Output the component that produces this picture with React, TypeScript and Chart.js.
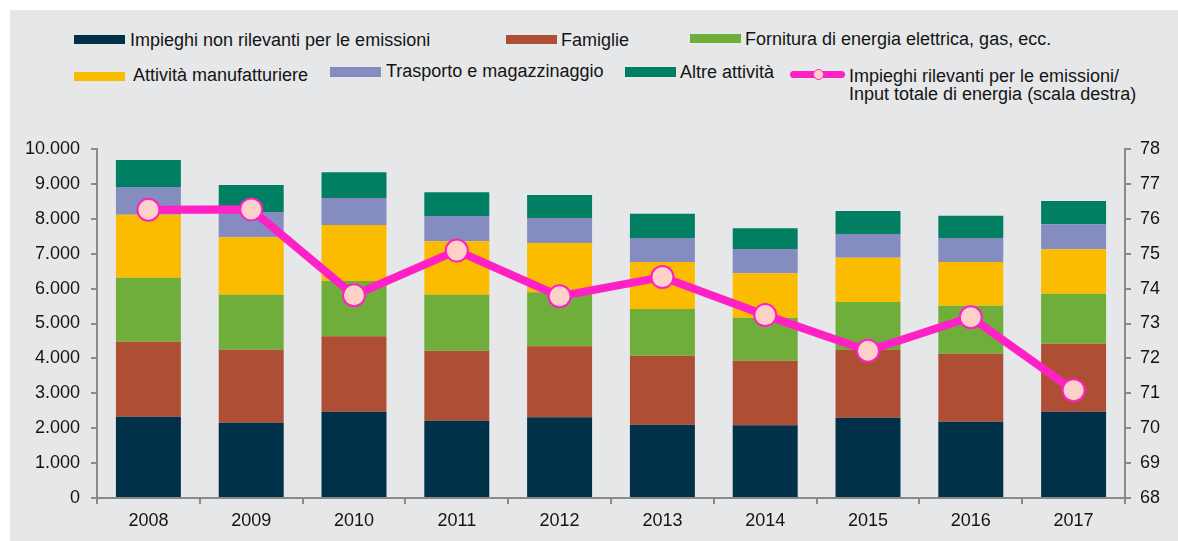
import React, { useEffect, useRef } from "react";
import { Chart, registerables } from "chart.js";

Chart.register(...registerables);

const years = ["2008", "2009", "2010", "2011", "2012", "2013", "2014", "2015", "2016", "2017"];
const nonRilevanti = [2330, 2158, 2473, 2215, 2312, 2100, 2083, 2301, 2186, 2473];
const famiglie = [2150, 2091, 2160, 2006, 2035, 1977, 1851, 1940, 1949, 1948];
const fornitura = [1833, 1576, 1585, 1604, 1547, 1338, 1232, 1375, 1375, 1433];
const manifatturiere = [1805, 1645, 1604, 1530, 1413, 1347, 1272, 1269, 1252, 1272];
const trasporto = [794, 725, 774, 725, 716, 688, 697, 679, 688, 716];
const altre = [774, 773, 736, 679, 659, 696, 593, 659, 639, 668];
const rapporto = [76.26, 76.27, 73.81, 75.09, 73.78, 74.33, 73.24, 72.22, 73.18, 71.09];

const COLORS = {
  dark: "#003149",
  brown: "#ae4f35",
  green: "#70ae3c",
  yellow: "#fbbc00",
  purple: "#858cbf",
  teal: "#007f63",
  line: "#ff20c6",
  point: "#fdd0c8",
};

const FONT = "'Liberation Sans', Arial, sans-serif";
const TEXT = "#141414";
const AXIS = "#8a8a8a";

function fmt(v: number): string {
  return String(Math.round(v)).replace(/\B(?=(\d{3})+(?!\d))/g, ".");
}

const legendItems = [
  { label: "Impieghi non rilevanti per le emissioni", color: COLORS.dark, sx: 74, sy: 35, sh: 9, tx: 130, ty: 30.5 },
  { label: "Famiglie", color: COLORS.brown, sx: 506, sy: 35, sh: 9, tx: 561, ty: 30.5 },
  { label: "Fornitura di energia elettrica, gas, ecc.", color: COLORS.green, sx: 690, sy: 34, sh: 9, tx: 745, ty: 30 },
  { label: "Attività manufatturiere", color: COLORS.yellow, sx: 74, sy: 72, sh: 9, tx: 133, ty: 65.5 },
  { label: "Trasporto e magazzinaggio", color: COLORS.purple, sx: 330, sy: 67, sh: 10, tx: 386, ty: 61.5 },
  { label: "Altre attività", color: COLORS.teal, sx: 625, sy: 67, sh: 10, tx: 680, ty: 62.5 },
];

export default function App() {
  const ref = useRef<HTMLCanvasElement | null>(null);

  useEffect(() => {
    if (!ref.current) return;
    const mk = (label: string, data: number[], color: string) => ({
      type: "bar" as const,
      label,
      data,
      backgroundColor: color,
      borderWidth: 0,
      yAxisID: "y",
      order: 2,
      barPercentage: 0.632,
      categoryPercentage: 1,
    });
    const chart = new Chart(ref.current, {
      type: "bar",
      data: {
        labels: years,
        datasets: [
          {
            type: "line",
            label: "Impieghi rilevanti per le emissioni/Input totale di energia (scala destra)",
            data: rapporto,
            yAxisID: "y1",
            borderColor: COLORS.line,
            borderWidth: 8,
            pointRadius: 11,
            pointBorderWidth: 2,
            pointBackgroundColor: COLORS.point,
            pointBorderColor: COLORS.line,
            tension: 0,
            order: 0,
          } as any,
          mk("Impieghi non rilevanti per le emissioni", nonRilevanti, COLORS.dark),
          mk("Famiglie", famiglie, COLORS.brown),
          mk("Fornitura di energia elettrica, gas, ecc.", fornitura, COLORS.green),
          mk("Attività manufatturiere", manifatturiere, COLORS.yellow),
          mk("Trasporto e magazzinaggio", trasporto, COLORS.purple),
          mk("Altre attività", altre, COLORS.teal),
        ],
      },
      options: {
        responsive: false,
        animation: false,
        devicePixelRatio: 1,
        layout: { padding: { top: 149, left: 0, right: 0, bottom: 0 } },
        plugins: {
          legend: { display: false },
          tooltip: { enabled: false },
        },
        scales: {
          x: {
            stacked: true,
            grid: { display: true, drawOnChartArea: false, offset: true, color: AXIS, lineWidth: 2, tickLength: 6 },
            border: { display: true, color: AXIS, width: 2 },
            ticks: { color: TEXT, font: { family: FONT, size: 18 }, padding: 6, maxRotation: 0 },
            afterFit: (s: any) => {
              s.height = 43;
            },
          },
          y: {
            stacked: true,
            position: "left",
            min: 0,
            max: 10000,
            grid: { display: true, drawOnChartArea: false, color: AXIS, lineWidth: 2, tickLength: 6 },
            border: { display: true, color: AXIS, width: 2 },
            ticks: {
              stepSize: 1000,
              color: TEXT,
              font: { family: FONT, size: 18 },
              padding: 11,
              callback: (v: any) => fmt(Number(v)),
            },
            afterFit: (s: any) => {
              s.width = 97;
            },
          },
          y1: {
            position: "right",
            min: 68,
            max: 78,
            grid: { display: true, drawOnChartArea: false, color: AXIS, lineWidth: 2, tickLength: 6 },
            border: { display: true, color: AXIS, width: 2 },
            ticks: {
              stepSize: 1,
              color: TEXT,
              font: { family: FONT, size: 18 },
              padding: 9,
            },
            afterFit: (s: any) => {
              s.width = 53;
            },
          },
        },
      },
    });
    return () => chart.destroy();
  }, []);

  const textStyle = (x: number, y: number): React.CSSProperties => ({
    position: "absolute",
    left: x,
    top: y,
    fontFamily: FONT,
    fontSize: 18,
    lineHeight: "18px",
    color: TEXT,
    whiteSpace: "nowrap",
  });

  return (
    <div style={{ position: "absolute", left: 0, top: 0, width: 1178, height: 541, background: "#ffffff", overflow: "hidden" }}>
      <div style={{ position: "absolute", left: 10, top: 10, width: 1168, height: 531, background: "#e6e7e9" }} />
      {legendItems.map((it) => (
        <React.Fragment key={it.label}>
          <div style={{ position: "absolute", left: it.sx, top: it.sy, width: 51, height: it.sh, background: it.color }} />
          <div style={textStyle(it.tx, it.ty)}>{it.label}</div>
        </React.Fragment>
      ))}
      <div style={{ position: "absolute", left: 790, top: 70.5, width: 55, height: 7, borderRadius: 3.5, background: COLORS.line }} />
      <div
        style={{
          position: "absolute",
          left: 812.5,
          top: 68.5,
          width: 11,
          height: 11,
          borderRadius: "50%",
          background: COLORS.point,
          border: `1.5px solid ${COLORS.line}`,
          boxSizing: "border-box",
        }}
      />
      <div style={textStyle(849, 67)}>Impieghi rilevanti per le emissioni/</div>
      <div style={textStyle(849, 85)}>Input totale di energia (scala destra)</div>
      <canvas
        ref={ref}
        width={1178}
        height={541}
        style={{ position: "absolute", left: 0, top: 0, width: 1178, height: 541 }}
      />
    </div>
  );
}
